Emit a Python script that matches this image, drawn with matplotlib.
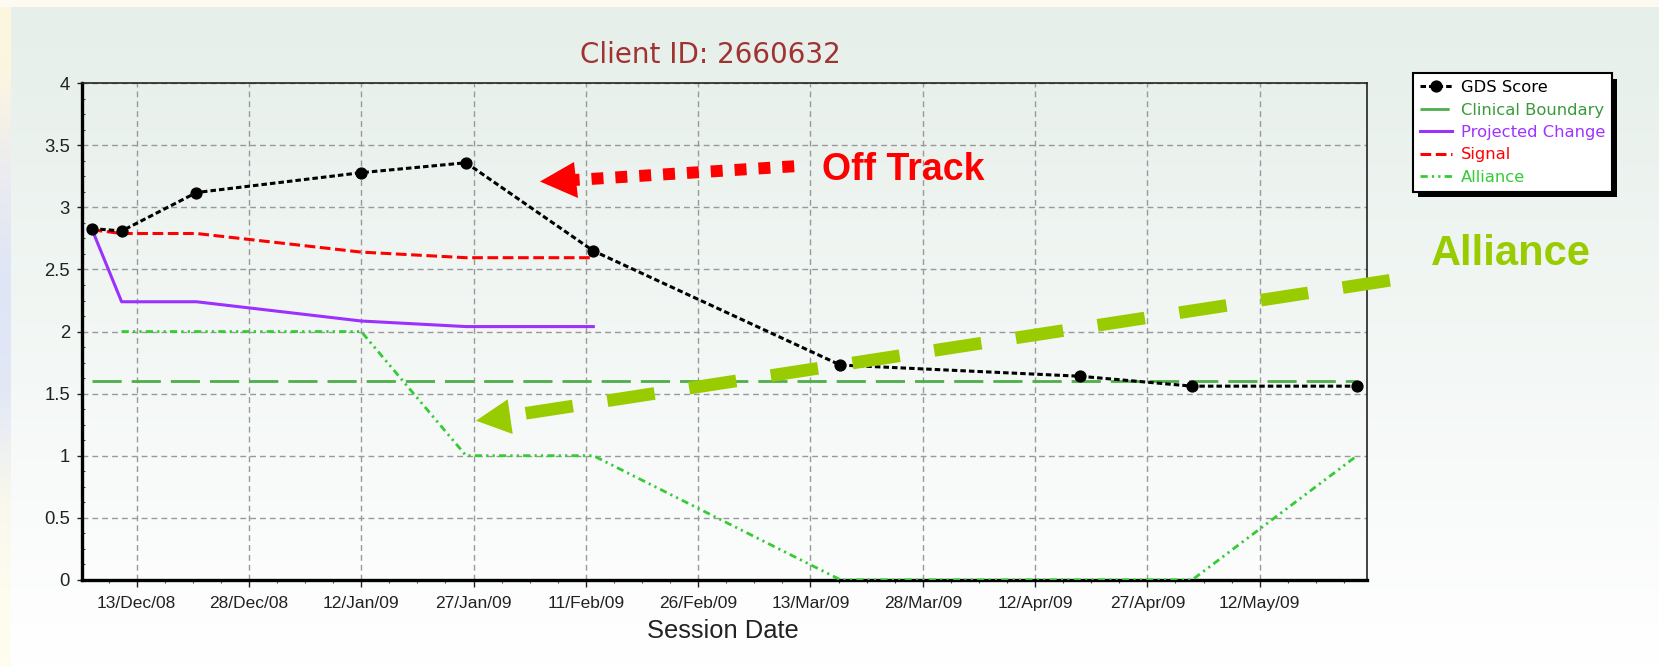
import matplotlib
matplotlib.use("Agg")
import matplotlib.pyplot as plt
import matplotlib.dates as mdates
from matplotlib.patches import Polygon, Rectangle
import numpy as np

W, H = 1659, 667

# ---- data ----
session_dates = ["2008-12-07", "2008-12-11", "2008-12-21", "2009-01-12", "2009-01-26",
                 "2009-02-12", "2009-03-17", "2009-04-18", "2009-05-03", "2009-05-25"]
gds_score = [2.83, 2.81, 3.12, 3.28, 3.36, 2.65, 1.73, 1.64, 1.56, 1.56]

signal_dates = session_dates[:6]
signal = [2.82, 2.79, 2.79, 2.64, 2.595, 2.595]

projected_dates = session_dates[:6]
projected = [2.83, 2.24, 2.24, 2.085, 2.04, 2.04]

alliance_dates = session_dates[1:]
alliance = [2, 2, 2, 1, 1, 0, 0, 0, 1]

boundary_dates = [session_dates[0], session_dates[-1]]
boundary = [1.6, 1.6]

tick_dates = ["2008-12-13", "2008-12-28", "2009-01-12", "2009-01-27", "2009-02-11",
              "2009-02-26", "2009-03-13", "2009-03-28", "2009-04-12", "2009-04-27",
              "2009-05-12"]
tick_labels = ["13/Dec/08", "28/Dec/08", "12/Jan/09", "27/Jan/09", "11/Feb/09",
               "26/Feb/09", "13/Mar/09", "28/Mar/09", "12/Apr/09", "27/Apr/09",
               "12/May/09"]
y_ticks = [0, 0.5, 1, 1.5, 2, 2.5, 3, 3.5, 4]
y_tick_labels = ["0", "0.5", "1", "1.5", "2", "2.5", "3", "3.5", "4"]


def to_num(dates):
    return mdates.date2num(np.array(dates, dtype="datetime64[D]"))


plt.rcParams["font.family"] = ["Liberation Sans", "DejaVu Sans"]

fig = plt.figure(figsize=(W / 100, H / 100), dpi=100)
fig.patch.set_facecolor("#fdfbf1")

# background panel (screenshot look) in pixel coordinates
bg = fig.add_axes([0, 0, 1, 1], zorder=0)
bg.set_xlim(0, W)
bg.set_ylim(H, 0)
bg.axis("off")
top_c = np.array([230, 239, 234]) / 255
bot_c = np.array([255, 255, 255]) / 255
t = np.linspace(0, 1, 256)[:, None]
grad = (top_c[None, :] * (1 - t) + bot_c[None, :] * t)[:, None, :]
bg.imshow(grad, extent=(11, W, H, 7), aspect="auto", interpolation="bilinear")
side = np.array([[253, 246, 222], [236, 236, 240], [222, 229, 245], [226, 232, 246],
                 [250, 248, 236], [255, 252, 240]]) / 255
bg.imshow(side[:, None, :], extent=(0, 11, H, 7), aspect="auto", interpolation="bilinear")

ax = fig.add_axes([81.7 / W, 1 - 579.8 / H, (1366.6 - 81.7) / W, (579.8 - 83.3) / H], zorder=1)
ax.patch.set_alpha(0)

x_sess = to_num(session_dates)

ax.plot(to_num(boundary_dates), boundary, color="#4dae4a", lw=2.0,
        dashes=(10.5, 3.6), label="Clinical Boundary", zorder=2)
ax.plot(to_num(alliance_dates), alliance, color="#33cc33", lw=2.0,
        dashes=(2.6, 1.5, 0.8, 1.5, 0.8, 1.5), label="Alliance", zorder=3)
ax.plot(to_num(projected_dates), projected, color="#9b30ff", lw=2.2,
        label="Projected Change", zorder=3)
ax.plot(to_num(signal_dates), signal, color="#ff0000", lw=2.2,
        dashes=(3.5, 1.5), label="Signal", zorder=4)
ax.plot(x_sess, gds_score, color="black", lw=2.2, dashes=(1.8, 1.0),
        marker="o", ms=7.8, label="GDS Score", zorder=5)

x_ticks = to_num(tick_dates)
x0 = x_ticks[0] - 7.33
x1 = x_ticks[0] + 164.28
ax.set_xlim(x0, x1)
ax.set_ylim(0, 4)
ax.set_xticks(x_ticks)
ax.set_xticklabels(tick_labels)
minor = np.arange(x_ticks[0] - 3.75, x1, 3.75)
ax.set_xticks(minor[minor > x0], minor=True)
ax.set_yticks(y_ticks)
ax.set_yticklabels(y_tick_labels)
ax.set_yticks(np.arange(0, 4.01, 0.125), minor=True)

ax.tick_params(axis="x", which="major", direction="out", length=5, width=1,
               pad=7, labelsize=12.5, colors="#222222")
ax.tick_params(axis="x", which="minor", direction="out", length=2.5, width=0.8,
               color="#444444")
ax.tick_params(axis="y", which="major", direction="out", length=3.6, width=1,
               pad=4.8, labelsize=13.3, colors="#222222")
ax.tick_params(axis="y", which="minor", direction="in", length=2.2, width=0.8,
               color="#444444")

ax.grid(which="major", color="#999999", linestyle=(0, (4.2, 2.9)), linewidth=1.0)
ax.set_axisbelow(True)

for s in ("left", "bottom"):
    ax.spines[s].set_linewidth(2.4)
    ax.spines[s].set_color("black")
for s in ("top", "right"):
    ax.spines[s].set_linewidth(1.2)
    ax.spines[s].set_color("#222222")

ax.set_xlabel("Session Date", fontsize=18.4, color="#222222")
ax.xaxis.set_label_coords((722.5 - 81.7) / (1366.6 - 81.7), -(619.5 - 579.8) / (579.8 - 83.3))

handles, labels = ax.get_legend_handles_labels()
order = ["GDS Score", "Clinical Boundary", "Projected Change", "Signal", "Alliance"]
hmap = dict(zip(labels, handles))
text_colors = ["#000000", "#3a9a3a", "#a033ff", "#ff0000", "#33cc33"]
leg = ax.legend([hmap[k] for k in order], order, loc="upper left",
                bbox_to_anchor=(1412.7 / W, 1 - 73.3 / H), bbox_transform=fig.transFigure,
                borderaxespad=0, fancybox=False, framealpha=1, edgecolor="black",
                prop={"family": "DejaVu Sans", "size": 11.8}, handlelength=2.0,
                handletextpad=0.5, labelspacing=0.45, borderpad=0.42)
leg.get_frame().set_linewidth(1.5)
for txt, c in zip(leg.get_texts(), text_colors):
    txt.set_color(c)

# annotations drawn in pixel coordinates on top
ov = fig.add_axes([0, 0, 1, 1], zorder=5)
ov.set_xlim(0, W)
ov.set_ylim(H, 0)
ov.axis("off")
ov.patch.set_alpha(0)

ov.text(710, 63.3, "Client ID: 2660632", ha="center", va="baseline",
        fontsize=20, color="#a03232", family="DejaVu Sans")

# "Off Track" arrow
ov.plot([567.7, 795], [180.4, 166.2], color="#ff0000", lw=8.6, dashes=(1, 1),
        dash_capstyle="butt", solid_capstyle="butt")
ov.add_patch(Polygon([(540, 181.5), (574, 162), (578, 198)], closed=True,
                     facecolor="#ff0000", edgecolor="none"))
ov.text(822, 180, "Off Track", ha="left", va="baseline", fontsize=27,
        fontweight="bold", color="#ff0000")

# "Alliance" arrow
ov.plot([525.7, 1403], [413.3, 278.3], color="#99cc00", lw=9.1, dashes=(3.78, 2.76),
        dash_capstyle="butt", solid_capstyle="butt")
ov.add_patch(Polygon([(476, 420.7), (507.7, 399.3), (512.7, 434)], closed=True,
                     facecolor="#99cc00", edgecolor="none"))
ov.text(1431, 265, "Alliance", ha="left", va="baseline", fontsize=30,
        fontweight="bold", color="#99cc00")

# legend drop shadow
fig.canvas.draw()
bb = leg.get_window_extent()
bg.add_patch(Rectangle((bb.x0 + 5.5, H - bb.y1 + 5.5), bb.width, bb.height,
                       facecolor="black", edgecolor="none"))

fig.savefig("out.png", dpi=100, facecolor=fig.get_facecolor())
